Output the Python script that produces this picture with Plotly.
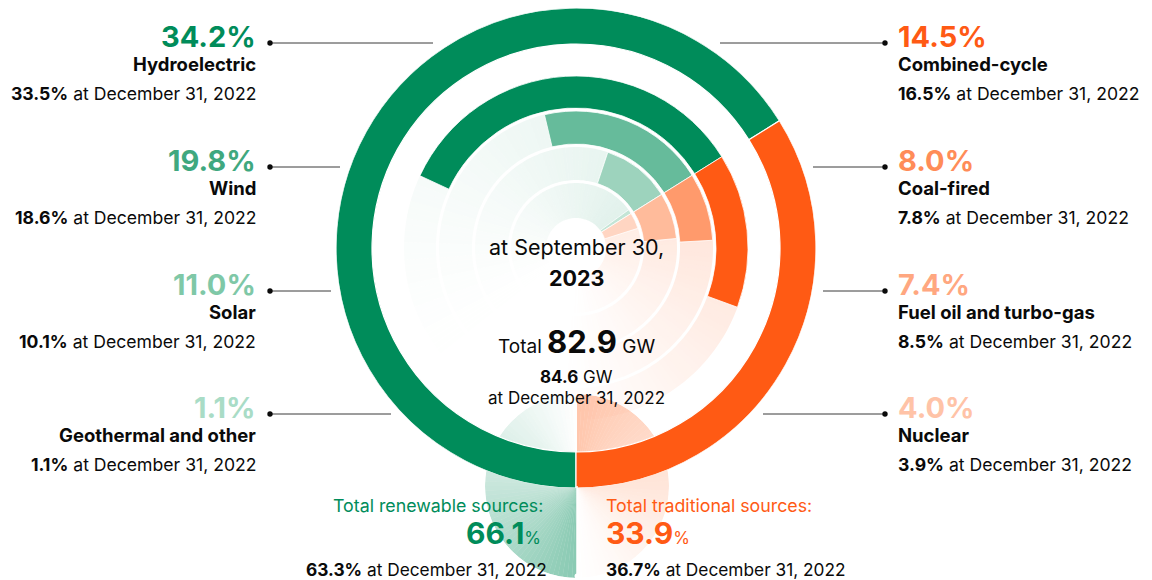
import numpy as np
import plotly.graph_objects as go

# ---------------- data ----------------
renew_names = ["Hydroelectric", "Wind", "Solar", "Geothermal and other"]
renew_2023 = [34.2, 19.8, 11.0, 1.1]
renew_2022 = [33.5, 18.6, 10.1, 1.1]
trad_names = ["Combined-cycle", "Coal-fired", "Fuel oil and turbo-gas", "Nuclear"]
trad_2023 = [14.5, 8.0, 7.4, 4.0]
trad_2022 = [16.5, 7.8, 8.5, 3.9]
group_names = ["Total renewable sources:", "Total traditional sources:"]
group_2023 = [66.1, 33.9]
group_2022 = [63.3, 36.7]
total_gw = [82.9, 84.6]
date_now = "at September 30,"
year_now = "2023"
date_prev = "at December 31, 2022"

# ---------------- style ----------------
W, H = 1152, 580
FONT = "Inter"
CX, CY, R = 576, 248, 240
GREEN = "#008C5A"
ORANGE = "#FF5A14"
TXT = "#0a0a0a"
renew_arc = [GREEN, "#66BB9B", "#9DD3BD", "#C3E5D6"]
renew_lbl = ["#008C5A", "#3FA87F", "#7FC8A7", "#A9DCC6"]
trad_arc = [ORANGE, "#FF9A6C", "#FFBB9B", "#FFD5C2"]
trad_lbl = ["#FF5A14", "#FF8C58", "#FFA780", "#FFC3A7"]
OUTER = (204, 240)
RINGS = [(140, 172), (104, 137), (68, 101), (30, 65)]
SMALL = 17.6
NAME = 18.5


def px(x):
    return x / W


def py(y):
    return 1 - y / H


def rgba(hexc, a):
    h = hexc.lstrip("#")
    return "rgba(%d,%d,%d,%.3f)" % (int(h[0:2], 16), int(h[2:4], 16), int(h[4:6], 16), a)


boundary = (180 + group_2023[0] * 3.6) % 360

fig = go.Figure()

# ---- decorative half-discs under the ring (subplot "polar") ----
th, wd, col = [], [], []
step = 3
for d in np.arange(0, 180, step):
    a = 0.46 * (1 - d / 180) ** 1.1
    th.append(180 + d + step / 2); wd.append(step); col.append(rgba(GREEN, a))
    a2 = 0.42 * (1 - d / 180) ** 1.2
    th.append(d + step / 2); wd.append(step); col.append(rgba("#FF7A3C", a2))
fig.add_trace(go.Barpolar(theta=th, width=wd, r=[92] * len(th), base=[0] * len(th),
                          marker=dict(color=col, line=dict(width=0)),
                          subplot="polar", hoverinfo="skip", showlegend=False))

# ---- fades inside the rings ----
fth, fwd, fbase, fr, fcol = [], [], [], [], []
for (r0, r1) in RINGS:
    s = 2
    for d in np.arange(0, 190, s):
        a = 0.12 * (1 - d / 190) ** 1.2
        fth.append((boundary - d - s / 2) % 360); fwd.append(s)
        fbase.append(r0); fr.append(r1 - r0); fcol.append(rgba(GREEN, a))
    for d in np.arange(0, 126, s):
        a = 0.22 * (1 - d / 126) ** 1.1 * (r1 / 172) ** 0.6
        fth.append((boundary + d + s / 2) % 360); fwd.append(s)
        fbase.append(r0); fr.append(r1 - r0); fcol.append(rgba(ORANGE, a))
fig.add_trace(go.Barpolar(theta=fth, width=fwd, base=fbase, r=fr,
                          marker=dict(color=fcol, line=dict(width=0)),
                          subplot="polar2", hoverinfo="skip", showlegend=False))

# ---- outer ring (totals) ----
wg = group_2023[0] * 3.6
wo = group_2023[1] * 3.6
fig.add_trace(go.Barpolar(theta=[(180 + wg / 2) % 360, (boundary + wo / 2) % 360], width=[wg, wo],
                          base=[OUTER[0]] * 2, r=[OUTER[1] - OUTER[0]] * 2,
                          marker=dict(color=[GREEN, ORANGE], line=dict(color="white", width=1.2)),
                          subplot="polar2", hoverinfo="skip", showlegend=False))

# ---- category arcs ----
for i in range(4):
    r0, r1 = RINGS[i]
    w1 = renew_2023[i] * 3.6
    w2 = trad_2023[i] * 3.6
    fig.add_trace(go.Barpolar(theta=[(boundary - w1 / 2) % 360, (boundary + w2 / 2) % 360],
                              width=[w1, w2], base=[r0, r0], r=[r1 - r0] * 2,
                              marker=dict(color=[renew_arc[i], trad_arc[i]],
                                          line=dict(color="white", width=0.8)),
                              subplot="polar2", hoverinfo="skip", showlegend=False))

ax_off = dict(visible=False, showgrid=False, showline=False, showticklabels=False, ticks="")
fig.update_layout(
    width=W, height=H, margin=dict(l=0, r=0, t=0, b=0),
    paper_bgcolor="white", plot_bgcolor="white", showlegend=False,
    font=dict(family=FONT, color=TXT),
    polar=dict(domain=dict(x=[px(577 - 92), px(577 + 92)], y=[py(486 + 92), py(486 - 92)]),
               bgcolor="rgba(0,0,0,0)", barmode="overlay",
               radialaxis=dict(range=[0, 92], **ax_off),
               angularaxis=dict(rotation=90, direction="clockwise", **ax_off)),
    polar2=dict(domain=dict(x=[px(CX - R), px(CX + R)], y=[py(CY + R), py(CY - R)]),
                bgcolor="rgba(0,0,0,0)", barmode="overlay",
                radialaxis=dict(range=[0, R], **ax_off),
                angularaxis=dict(rotation=90, direction="clockwise", **ax_off)),
)

shapes = []
ann = []
dot_y = [43, 167, 291, 414]
left_end = [433, 340, 331, 391]
right_start = [720, 813, 823, 763]
LX_DOT, RX_DOT = 270, 885
LINE_C = "#3a3a3a"
for i in range(4):
    y = dot_y[i]
    shapes.append(dict(type="line", xref="paper", yref="paper", x0=px(LX_DOT), x1=px(left_end[i]),
                       y0=py(y), y1=py(y), line=dict(color=LINE_C, width=1)))
    shapes.append(dict(type="line", xref="paper", yref="paper", x0=px(right_start[i]), x1=px(RX_DOT),
                       y0=py(y), y1=py(y), line=dict(color=LINE_C, width=1)))
    for xd in (LX_DOT, RX_DOT):
        shapes.append(dict(type="circle", xref="paper", yref="paper", x0=px(xd - 2.7), x1=px(xd + 2.7),
                           y0=py(y + 2.7), y1=py(y - 2.7), fillcolor=TXT, line=dict(width=0)))
    # left entries
    ann.append(dict(x=px(258), y=py(y - 7), text="<b>%.1f%%</b>" % renew_2023[i], xanchor="right",
                    yanchor="middle", font=dict(size=29, color=renew_lbl[i])))
    ann.append(dict(x=px(258), y=py(y + 21), text="<b>%s</b>" % renew_names[i], xanchor="right",
                    yanchor="middle", font=dict(size=NAME, color=TXT)))
    ann.append(dict(x=px(258), y=py(y + 50), text="<b>%.1f%%</b> %s" % (renew_2022[i], date_prev),
                    xanchor="right", yanchor="middle", font=dict(size=SMALL, color=TXT)))
    # right entries
    ann.append(dict(x=px(896), y=py(y - 7), text="<b>%.1f%%</b>" % trad_2023[i], xanchor="left",
                    yanchor="middle", font=dict(size=29, color=trad_lbl[i])))
    ann.append(dict(x=px(896), y=py(y + 21), text="<b>%s</b>" % trad_names[i], xanchor="left",
                    yanchor="middle", font=dict(size=NAME, color=TXT)))
    ann.append(dict(x=px(896), y=py(y + 50), text="<b>%.1f%%</b> %s" % (trad_2022[i], date_prev),
                    xanchor="left", yanchor="middle", font=dict(size=SMALL, color=TXT)))

# center texts
ann.append(dict(x=px(CX), y=py(247), text=date_now, xanchor="center", yanchor="middle",
                font=dict(size=21.5, color=TXT)))
ann.append(dict(x=px(CX), y=py(278), text="<b>%s</b>" % year_now, xanchor="center", yanchor="middle",
                font=dict(size=21.5, color=TXT)))
ann.append(dict(x=px(CX), y=py(341),
                text="Total <span style='font-size:31px'><b>%.1f</b></span> GW" % total_gw[0],
                xanchor="center", yanchor="middle", font=dict(size=19, color=TXT)))
ann.append(dict(x=px(CX), y=py(377), text="<b>%.1f</b> GW" % total_gw[1], xanchor="center",
                yanchor="middle", font=dict(size=17, color=TXT)))
ann.append(dict(x=px(CX), y=py(398), text=date_prev, xanchor="center", yanchor="middle",
                font=dict(size=17, color=TXT)))

# bottom totals
ann.append(dict(x=px(545), y=py(505), text=group_names[0], xanchor="right", yanchor="middle",
                font=dict(size=17.8, color=GREEN)))
ann.append(dict(x=px(543), y=py(533),
                text="<b>%.1f</b><span style='font-size:17px'>%%</span>" % group_2023[0],
                xanchor="right", yanchor="middle", font=dict(size=30, color=GREEN)))
ann.append(dict(x=px(549), y=py(569), text="<b>%.1f%%</b> %s" % (group_2022[0], date_prev),
                xanchor="right", yanchor="middle", font=dict(size=17.3, color=TXT)))
ann.append(dict(x=px(604), y=py(505), text=group_names[1], xanchor="left", yanchor="middle",
                font=dict(size=17.8, color=ORANGE)))
ann.append(dict(x=px(604), y=py(533),
                text="<b>%.1f</b><span style='font-size:17px'>%%</span>" % group_2023[1],
                xanchor="left", yanchor="middle", font=dict(size=30, color=ORANGE)))
ann.append(dict(x=px(604), y=py(569), text="<b>%.1f%%</b> %s" % (group_2022[1], date_prev),
                xanchor="left", yanchor="middle", font=dict(size=17.3, color=TXT)))

for a in ann:
    a.update(xref="paper", yref="paper", showarrow=False)

# white divider below the ring
shapes.append(dict(type="line", xref="paper", yref="paper", x0=px(577), x1=px(577), y0=py(486), y1=py(578),
                   line=dict(color="white", width=1.5)))
shapes.append(dict(type="circle", xref="paper", yref="paper", x0=px(574.5), x1=px(579.5), y0=py(578.5),
                   y1=py(573.5), fillcolor="white", line=dict(width=0)))

fig.update_layout(shapes=shapes, annotations=ann)
fig.write_html("out.html")
